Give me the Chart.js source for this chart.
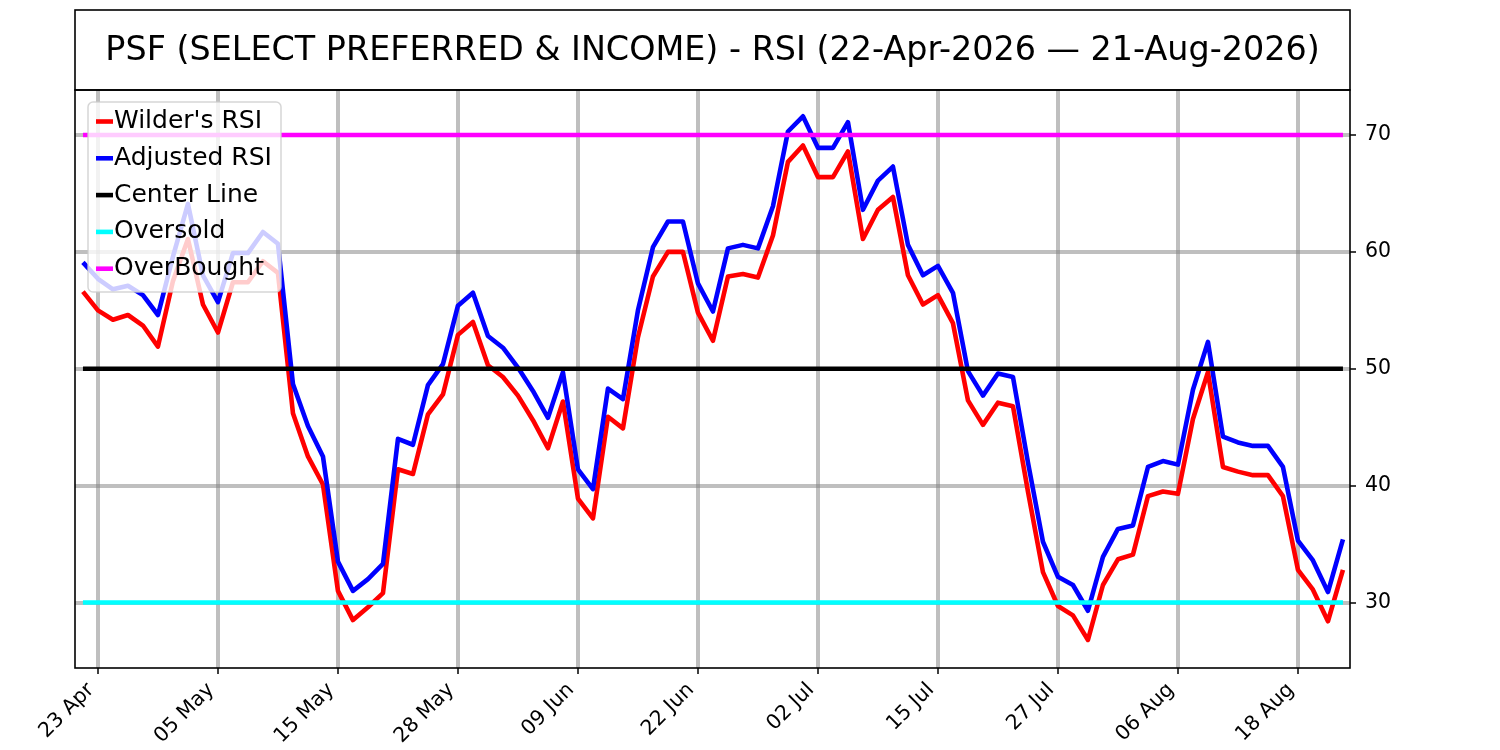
<!DOCTYPE html>
<html>
<head>
<meta charset="utf-8">
<script src="https://cdn.jsdelivr.net/npm/chart.js@4.4.1/dist/chart.umd.min.js"></script>
<style>
html, body { margin: 0; padding: 0; background: #fff; }
</style>
</head>
<body>
<canvas id="rsiChart" width="1500" height="750"></canvas>
<script>
// trading days, 22 Apr 2026 -> 21 Aug 2026
const dates = [
    '22 Apr', '23 Apr', '24 Apr', '27 Apr', '28 Apr', '29 Apr', '30 Apr',
    '01 May', '04 May', '05 May', '06 May', '07 May', '08 May', '11 May', '12 May', '13 May', '14 May', '15 May',
    '18 May', '19 May', '20 May', '21 May', '22 May', '26 May', '27 May', '28 May', '29 May',
    '01 Jun', '02 Jun', '03 Jun', '04 Jun', '05 Jun', '08 Jun', '09 Jun', '10 Jun', '11 Jun', '12 Jun',
    '15 Jun', '16 Jun', '17 Jun', '18 Jun', '22 Jun', '23 Jun', '24 Jun', '25 Jun', '26 Jun', '29 Jun', '30 Jun',
    '01 Jul', '02 Jul', '06 Jul', '07 Jul', '08 Jul', '09 Jul', '10 Jul', '13 Jul', '14 Jul', '15 Jul',
    '16 Jul', '17 Jul', '20 Jul', '21 Jul', '22 Jul', '23 Jul', '24 Jul', '27 Jul', '28 Jul', '29 Jul', '30 Jul', '31 Jul',
    '03 Aug', '04 Aug', '05 Aug', '06 Aug', '07 Aug', '10 Aug', '11 Aug', '12 Aug', '13 Aug', '14 Aug',
    '17 Aug', '18 Aug', '19 Aug', '20 Aug', '21 Aug',
];

// which dates get a label on the x axis
const tickIndex = [1, 9, 17, 25, 33, 41, 49, 57, 65, 73, 81];
const yTicks = [30, 40, 50, 60, 70];

const wildersRsi = [
    56.6, 55.0, 54.2, 54.6, 53.7, 51.9, 57.5, 61.1, 55.5, 53.1,
    57.4, 57.4, 59.2, 58.2, 46.2, 42.5, 40.1, 31.0, 28.5, 29.6,
    30.8, 41.4, 41.0, 46.1, 47.8, 52.9, 54.0, 50.3, 49.3, 47.7,
    45.6, 43.2, 47.2, 38.9, 37.2, 45.9, 44.9, 52.7, 57.9, 60.0,
    60.0, 54.8, 52.4, 57.9, 58.1, 57.8, 61.4, 67.7, 69.1, 66.4,
    66.4, 68.6, 61.1, 63.6, 64.7, 58.0, 55.5, 56.3, 53.9, 47.3,
    45.2, 47.1, 46.8, 39.5, 32.6, 29.7, 28.9, 26.8, 31.5, 33.7,
    34.1, 39.1, 39.5, 39.3, 45.7, 49.7, 41.6, 41.2, 40.9, 40.9,
    39.1, 32.8, 31.1, 28.4, 32.8,
];

const adjustedRsi = [
    59.1, 57.7, 56.8, 57.1, 56.3, 54.6, 59.6, 64.1, 58.0, 55.7,
    59.9, 59.9, 61.7, 60.7, 48.7, 45.1, 42.5, 33.5, 31.0, 32.0,
    33.3, 44.0, 43.5, 48.6, 50.4, 55.4, 56.5, 52.8, 51.8, 50.1,
    48.1, 45.8, 49.7, 41.4, 39.7, 48.3, 47.4, 55.0, 60.4, 62.6,
    62.6, 57.3, 54.9, 60.3, 60.6, 60.3, 63.9, 70.3, 71.6, 68.9,
    68.9, 71.1, 63.6, 66.1, 67.3, 60.6, 58.0, 58.8, 56.5, 49.8,
    47.7, 49.6, 49.3, 42.0, 35.2, 32.2, 31.5, 29.3, 33.9, 36.3,
    36.6, 41.6, 42.1, 41.8, 48.2, 52.3, 44.2, 43.7, 43.4, 43.4,
    41.6, 35.3, 33.6, 30.9, 35.4,
];

const centerLevel = 50;
const oversoldLevel = 30;
const overboughtLevel = 70;

const titleText = 'PSF (SELECT PREFERRED & INCOME) - RSI (22-Apr-2026 \u2014 21-Aug-2026)';

const FONT = "'DejaVu Sans', sans-serif";

//turn a list of values into {x, y} points, x is the trading day number
const toPoints = (values) => values.map((v, i) => ({ x: i, y: v }));
const flatLine = (level) => dates.map((d, i) => ({ x: i, y: level }));

const makeLine = (label, data, color, order) => ({
    label: label,
    data: data,
    borderColor: color,
    backgroundColor: color,
    borderWidth: 4.6,
    pointRadius: 0,
    tension: 0,
    borderJoinStyle: 'round',
    order: order,
});

//title box above the plot, frame round the plot and the legend in the top left corner
const boxPlugin = {
    id: 'boxPlugin',
    afterDatasetsDraw(chart) {
        const ctx = chart.ctx;
        const area = chart.chartArea;
        ctx.save();

        const left = area.left + 13;
        const top = area.top + 12;
        ctx.beginPath();
        ctx.roundRect(left, top, 193, 190, 5);
        ctx.fillStyle = 'rgba(255,255,255,0.8)';
        ctx.fill();
        ctx.strokeStyle = 'rgba(204,204,204,0.8)';
        ctx.lineWidth = 1.5;
        ctx.stroke();

        ctx.font = '25px ' + FONT;
        ctx.textBaseline = 'middle';
        ctx.textAlign = 'left';
        chart.data.datasets.forEach((ds, i) => {
            const y = top + 19.5 + i * 36.8;
            ctx.strokeStyle = ds.borderColor;
            ctx.lineWidth = 4.6;
            ctx.beginPath();
            ctx.moveTo(left + 8, y);
            ctx.lineTo(left + 25, y);
            ctx.stroke();
            ctx.fillStyle = '#000';
            ctx.fillText(ds.label, left + 26, y);
        });
        ctx.restore();
    },
    afterDraw(chart) {
        const ctx = chart.ctx;
        const area = chart.chartArea;
        ctx.save();
        ctx.strokeStyle = '#000';
        ctx.lineWidth = 1.6;
        ctx.strokeRect(area.left, area.top, area.right - area.left, area.bottom - area.top);
        ctx.strokeRect(area.left, 10, area.right - area.left, area.top - 10);

        ctx.fillStyle = '#000';
        ctx.font = '33.4px ' + FONT;
        ctx.textAlign = 'center';
        ctx.textBaseline = 'middle';
        ctx.fillText(titleText, (area.left + area.right) / 2, (10 + area.top) / 2 + 1);
        ctx.restore();
    },
};

const gridStyle = {
    color: 'rgba(128,128,128,0.5)',
    lineWidth: 4,
    tickColor: '#000',
    tickWidth: 1.5,
    tickLength: 6,
};

const chart = new Chart(document.getElementById('rsiChart'), {
    type: 'line',
    data: {
        datasets: [
            makeLine("Wilder's RSI", toPoints(wildersRsi), '#ff0000', 5),
            makeLine('Adjusted RSI', toPoints(adjustedRsi), '#0000ff', 4),
            makeLine('Center Line', flatLine(centerLevel), '#000000', 3),
            makeLine('Oversold', flatLine(oversoldLevel), '#00ffff', 2),
            makeLine('OverBought', flatLine(overboughtLevel), '#ff00ff', 1),
        ],
    },
    options: {
        responsive: false,
        animation: false,
        devicePixelRatio: 1,
        layout: {
            padding: { left: 75, top: 90, right: 0, bottom: 0 },
        },
        plugins: {
            legend: { display: false },
            title: { display: false },
            tooltip: { enabled: false },
        },
        scales: {
            x: {
                type: 'linear',
                min: -0.53,
                max: 84.47,
                afterBuildTicks: (scale) => {
                    scale.ticks = tickIndex.map((v) => ({ value: v }));
                },
                afterFit: (scale) => {
                    scale.height = 82;
                },
                ticks: {
                    autoSkip: false,
                    minRotation: 45,
                    maxRotation: 45,
                    padding: 4,
                    labelOffset: -7,
                    color: '#000',
                    font: { family: FONT, size: 20.5 },
                    callback: (value) => dates[value],
                },
                grid: gridStyle,
                border: { display: false },
            },
            y: {
                position: 'right',
                min: 24.4,
                max: 73.85,
                afterBuildTicks: (scale) => {
                    scale.ticks = yTicks.map((v) => ({ value: v }));
                },
                afterFit: (scale) => {
                    scale.width = 150;
                },
                ticks: {
                    padding: 9,
                    color: '#000',
                    font: { family: FONT, size: 20.5 },
                },
                grid: gridStyle,
                border: { display: false },
            },
        },
    },
    plugins: [boxPlugin],
});
</script>
</body>
</html>
